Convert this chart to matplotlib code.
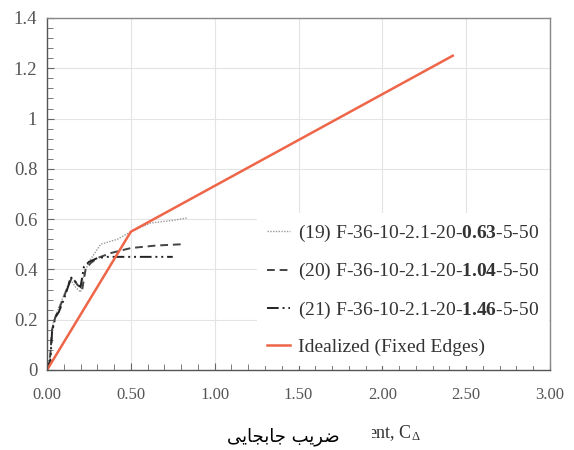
import matplotlib
matplotlib.use("Agg")
import matplotlib.pyplot as plt
from matplotlib.patches import Rectangle
from matplotlib.ticker import MultipleLocator, FormatStrFormatter

plt.rcParams['font.family'] = ['Liberation Serif', 'DejaVu Serif']
plt.rcParams['mathtext.fontset'] = 'custom'
plt.rcParams['mathtext.rm'] = 'Liberation Serif'
plt.rcParams['mathtext.it'] = 'Liberation Serif'
plt.rcParams['mathtext.bf'] = 'Liberation Serif:bold'

# test curves
x19 = [0, 0.02, 0.03, 0.04, 0.06, 0.09, 0.12, 0.14, 0.17, 0.20, 0.22, 0.25, 0.32, 0.42, 0.50, 0.62, 0.75, 0.84]
y19 = [0, 0.05, 0.15, 0.20, 0.23, 0.28, 0.33, 0.36, 0.33, 0.31, 0.38, 0.43, 0.50, 0.52, 0.55, 0.585, 0.595, 0.605]
x20 = [0, 0.02, 0.03, 0.05, 0.07, 0.10, 0.13, 0.15, 0.18, 0.21, 0.23, 0.26, 0.30, 0.38, 0.50, 0.65, 0.80]
y20 = [0, 0.06, 0.16, 0.21, 0.24, 0.29, 0.34, 0.37, 0.34, 0.32, 0.40, 0.425, 0.445, 0.465, 0.485, 0.495, 0.50]
x21 = [0, 0.02, 0.03, 0.05, 0.07, 0.10, 0.13, 0.14, 0.17, 0.20, 0.22, 0.25, 0.30, 0.36, 0.45, 0.60, 0.75]
y21 = [0, 0.04, 0.15, 0.21, 0.23, 0.28, 0.34, 0.37, 0.35, 0.33, 0.41, 0.43, 0.445, 0.45, 0.45, 0.45, 0.45]
# idealized bilinear curve
x_ideal = [0, 0.5, 2.42]
y_ideal = [0, 0.55, 1.25]

labels = [r'(19) F-36-10-2.1-20-$\mathbf{0.63}$-5-50',
          r'(20) F-36-10-2.1-20-$\mathbf{1.04}$-5-50',
          r'(21) F-36-10-2.1-20-$\mathbf{1.46}$-5-50',
          'Idealized (Fixed Edges)']

fig = plt.figure(figsize=(5.74, 4.5), dpi=100)
ax = fig.add_axes([47/574, 1-370/450, 503/574, 352/450])

ax.plot(x19, y19, color='#9a9a9a', lw=1.0, ls=(0, (1, 1)), label=labels[0])
ax.plot(x20, y20, color='#444444', lw=1.4, ls=(0, (4, 2.5)), label=labels[1])
ax.plot(x21, y21, color='#222222', lw=1.4, ls=(0, (6, 2, 1, 2, 1, 2)), label=labels[2])
ax.plot(x_ideal, y_ideal, color='#ef6548', lw=1.8, label=labels[3])

ax.set_xlim(0, 3)
ax.set_ylim(0, 1.4)
ax.xaxis.set_major_locator(MultipleLocator(0.5))
ax.xaxis.set_minor_locator(MultipleLocator(0.1))
ax.yaxis.set_major_locator(MultipleLocator(0.2))
ax.yaxis.set_minor_locator(MultipleLocator(0.04))
ax.xaxis.set_major_formatter(FormatStrFormatter('%.2f'))
ax.yaxis.set_major_formatter(FormatStrFormatter('%g'))
ax.grid(True, which='major', color='#e4e4e4', lw=0.8)
ax.set_axisbelow(True)
ax.tick_params(which='both', direction='in', colors='#666666', labelcolor='#555555',
               labelsize=12, top=False, right=False)
ax.tick_params(which='major', length=5)
ax.tick_params(which='minor', length=4)
ax.tick_params(axis='x', which='major', pad=12)
ax.tick_params(axis='y', which='major', pad=7, labelsize=13.5)
for s in ax.spines.values():
    s.set_color('#888888')
    s.set_linewidth(1.0)
ax.spines['bottom'].set_color('#555555')
ax.spines['left'].set_color('#555555')

leg = ax.legend(loc='lower left', bbox_to_anchor=(0.398, -0.016), fontsize=14,
                frameon=True, facecolor='white', edgecolor='none', framealpha=1,
                fancybox=False, handlelength=1.2, handletextpad=0.4,
                labelspacing=0.9, borderpad=0.5)
for t in leg.get_texts():
    t.set_color('#333333')

# x label: English remnant partly covered by the Persian caption
fig.text(421/574, 1-433/450, r'ent, C$_\Delta$', fontsize=13, color='#333333',
         ha='right', va='center')
fig.patches.append(Rectangle((200/574, 1-450/450), 172/574, 40/450,
                             transform=fig.transFigure, facecolor='white',
                             edgecolor='none', zorder=4))
fa = '\uFBFD\uFBFE\uFE8E\uFEA0\uFE91\uFE8E\uFE9F \uFE90\uFBFE\uFEAE\uFEBF'
fig.text(340/574, 1-437/450, fa, fontsize=13, family=['DejaVu Sans'], color='black',
         ha='right', va='center', zorder=5)

fig.savefig('out.png', dpi=100)
